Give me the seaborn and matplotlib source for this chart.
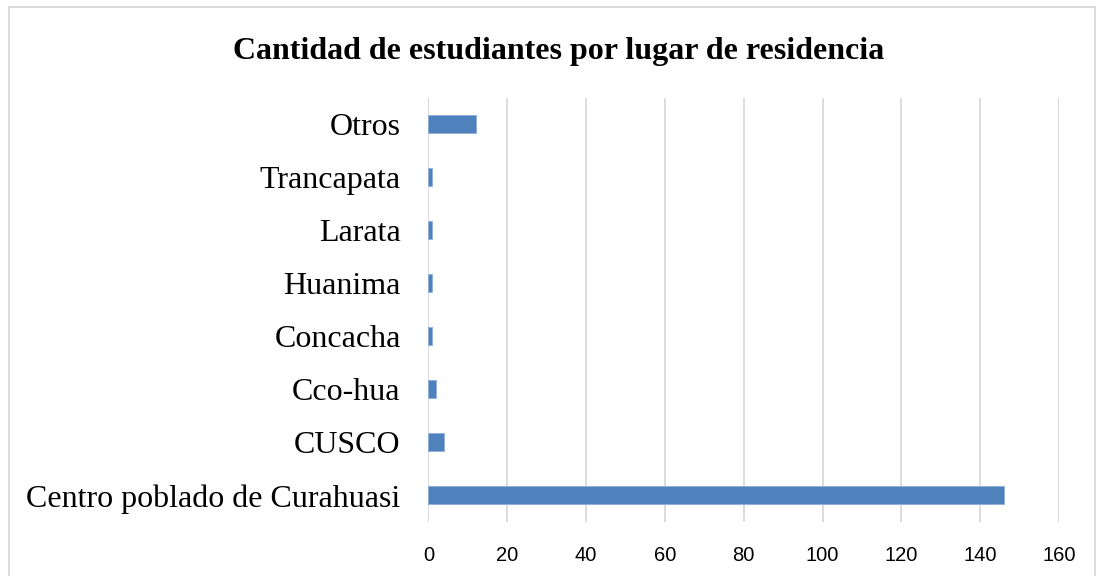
import matplotlib.pyplot as plt
import seaborn as sns
import pandas as pd

lugares = ["Otros", "Trancapata", "Larata", "Huanima", "Concacha",
           "Cco-hua", "CUSCO", "Centro poblado de Curahuasi"]
estudiantes = [12, 1, 1, 1, 1, 2, 4, 146]
ticks_x = [0, 20, 40, 60, 80, 100, 120, 140, 160]

df = pd.DataFrame({"lugar": lugares, "cantidad": estudiantes})

sns.set_style("white")
fig = plt.figure(figsize=(10.97, 5.76), dpi=100)
ax = fig.add_axes([0.3906, 0.0938, 0.5747, 0.7361])

sns.barplot(
    data=df,
    x="cantidad",
    y="lugar",
    orient="h",
    color="#4F81BD",
    saturation=1,
    width=0.34,
    edgecolor="#8EAEDB",
    linewidth=0.6,
    ax=ax,
)

ax.set_xlim(0, 160)
ax.set_xticks(ticks_x)
ax.set_xticklabels([str(t) for t in ticks_x], family="Liberation Sans",
                   fontsize=14.5, color="black")
ax.tick_params(axis="x", length=0, pad=17)
ax.tick_params(axis="y", length=0, pad=20)
for lab in ax.get_yticklabels():
    lab.set_family("Liberation Serif")
    lab.set_fontsize(23)
    lab.set_color("black")

ax.grid(axis="x", color="#D9D9D9", linewidth=1.3)
ax.set_axisbelow(True)
for s in ax.spines.values():
    s.set_visible(False)
ax.set_xlabel("")
ax.set_ylabel("")

fig.text(0.509, 0.91, "Cantidad de estudiantes por lugar de residencia",
         ha="center", va="center", family="Liberation Serif",
         fontweight="bold", fontsize=23, color="black")

# marco del grafico
borde = plt.Rectangle((0.0085, -0.01), 0.99, 0.997, transform=fig.transFigure,
                      fill=False, edgecolor="#D9D9D9", linewidth=1.3)
fig.patches.append(borde)

plt.savefig("out.png", dpi=100)
